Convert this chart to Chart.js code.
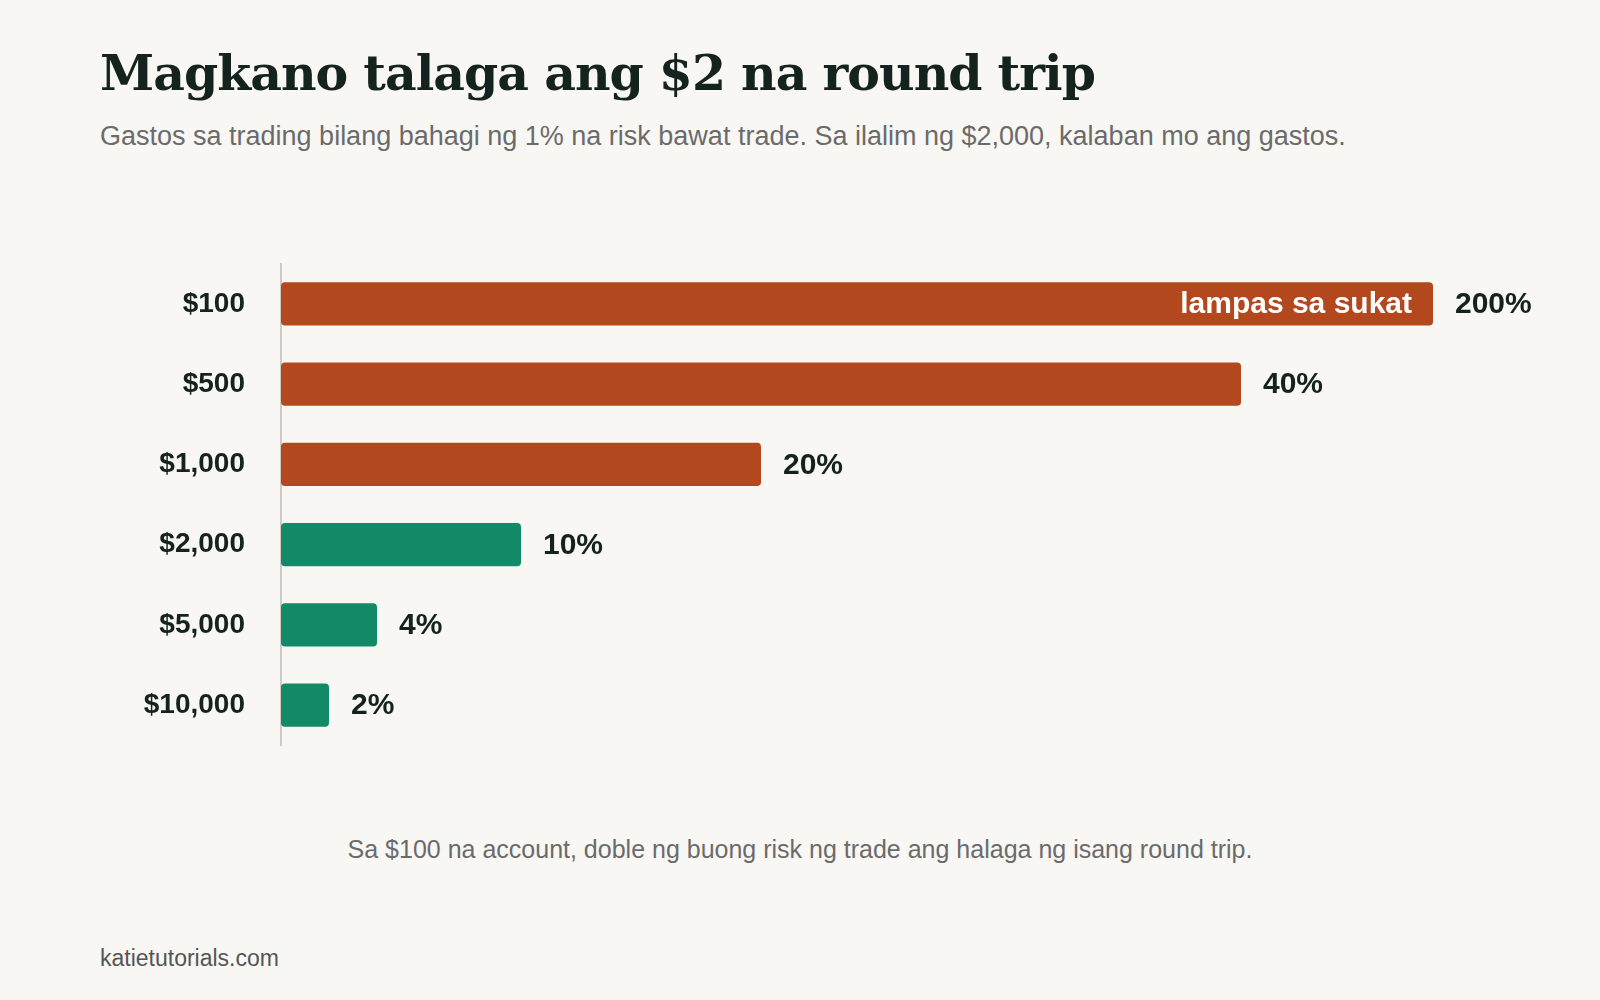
<!DOCTYPE html>
<html><head><meta charset="utf-8">
<script src="https://cdn.jsdelivr.net/npm/chart.js@4"></script>
<style>
html,body{margin:0;padding:0;background:#F9F7F3;width:1600px;height:1000px;overflow:hidden;font-family:"Liberation Sans",Arial,sans-serif}
#title{position:absolute;left:100px;top:44px;font-family:"DejaVu Serif",serif;font-weight:bold;font-size:49px;color:#14231E;letter-spacing:-1px;white-space:nowrap}
#sub{position:absolute;left:100px;top:121px;font-size:27px;color:#6B6B6B;white-space:nowrap}
#note{position:absolute;left:0;width:1600px;text-align:center;top:835px;font-size:25px;color:#6B6B6B}
#foot{position:absolute;left:100px;top:945px;font-size:23px;color:#555}
#wrap{position:absolute;left:0;top:219px;width:1600px;height:571px}
</style></head><body>
<div id="title">Magkano talaga ang $2 na round trip</div>
<div id="sub">Gastos sa trading bilang bahagi ng 1% na risk bawat trade. Sa ilalim ng $2,000, kalaban mo ang gastos.</div>
<div id="wrap"><canvas id="c"></canvas></div>
<div id="note">Sa $100 na account, doble ng buong risk ng trade ang halaga ng isang round trip.</div>
<div id="foot">katietutorials.com</div>
<script>
const categories = ["$100","$500","$1,000","$2,000","$5,000","$10,000"];
const values = [200,40,20,10,4,2];
const valueLabels = ["200%","40%","20%","10%","4%","2%"];
const barColors = ["#B3471D","#B3471D","#B3471D","#128A68","#128A68","#128A68"];
const scaleCap = 48;
const overflowLabel = "lampas sa sukat";
const shown = values.map(v => Math.min(v, scaleCap));

const labelPlugin = {
  id:'lbl',
  afterDatasetsDraw(chart){
    const ctx = chart.ctx;
    const meta = chart.getDatasetMeta(0);
    ctx.save();
    ctx.font = "bold 30px 'Liberation Sans', Arial, sans-serif";
    ctx.textBaseline = 'middle';
    meta.data.forEach((bar,i)=>{
      ctx.fillStyle = '#14231E'; ctx.textAlign='left';
      ctx.fillText(valueLabels[i], bar.x + 22, bar.y + 1);
      if (values[i] > scaleCap){
        ctx.fillStyle = '#fff'; ctx.textAlign='right';
        ctx.fillText(overflowLabel, bar.x - 21, bar.y + 1);
      }
    });
    ctx.restore();
  }
};

new Chart(document.getElementById('c'), {
  type:'bar',
  data:{labels:categories, datasets:[{data:shown, backgroundColor:barColors, borderRadius:4, borderSkipped:false, barPercentage:0.54, categoryPercentage:1}]},
  options:{
    indexAxis:'y', responsive:true, maintainAspectRatio:false, animation:false,
    layout:{padding:{left:0,right:119,top:0,bottom:0}},
    plugins:{legend:{display:false},tooltip:{enabled:false}},
    scales:{
      x:{display:false,min:0,max:50},
      y:{
        grid:{display:false},
        border:{display:true,color:'#CFCBC4',width:2},
        ticks:{color:'#14231E',padding:28,font:{family:"'Liberation Sans', Arial, sans-serif",weight:'bold',size:28}},
        afterFit(s){ s.width = 281; }
      }
    }
  },
  plugins:[labelPlugin]
});
</script>
</body></html>
